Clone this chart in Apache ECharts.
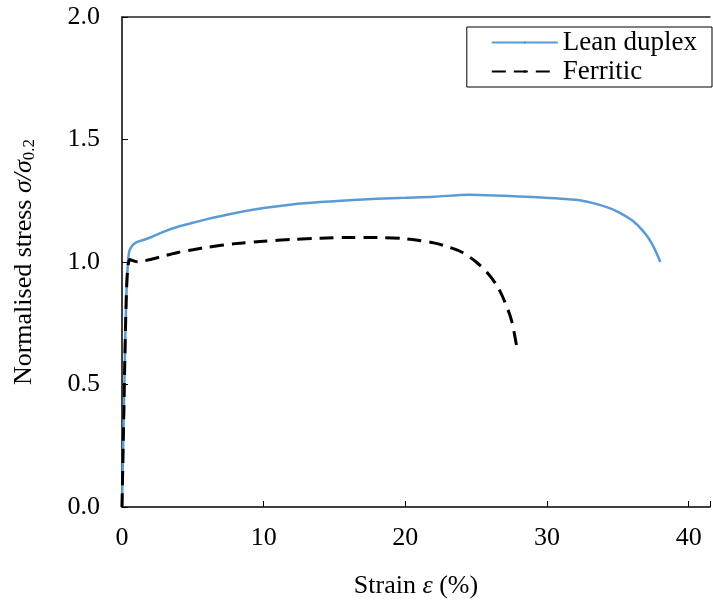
<!DOCTYPE html>
<html>
<head>
<meta charset="utf-8">
<script src="https://cdn.jsdelivr.net/npm/echarts@6/dist/echarts.min.js"></script>
<style>
  html, body { margin: 0; padding: 0; background: #fff; }
  #main { width: 713px; height: 608px; }
</style>
</head>
<body>
<div id="main"></div>
<script>
var leanStrain = [0, 0.1, 0.2, 0.3, 0.4, 0.5, 0.7, 1.0, 1.5, 2, 3, 4, 5, 6, 8, 10, 12, 14, 16, 18, 20, 22, 24.5, 27, 29, 31, 32.5, 34, 35, 36, 36.8, 37.4, 38.0];
var leanStress = [0, 0.3, 0.6, 0.85, 0.98, 1.04, 1.065, 1.08, 1.09, 1.10, 1.125, 1.145, 1.16, 1.175, 1.20, 1.22, 1.235, 1.245, 1.252, 1.258, 1.262, 1.266, 1.275, 1.27, 1.265, 1.258, 1.25, 1.228, 1.205, 1.17, 1.125, 1.075, 1.0];

var ferStrain = [0, 0.1, 0.2, 0.3, 0.4, 0.55, 0.8, 1.2, 1.6, 2, 3, 4, 5, 6, 8, 10, 12, 14, 16, 18, 20, 21, 22, 23, 24, 25, 25.8, 26.5, 27, 27.5, 27.9];
var ferStress = [0, 0.3, 0.6, 0.85, 0.97, 1.01, 1.005, 1.0, 1.005, 1.01, 1.025, 1.04, 1.05, 1.06, 1.075, 1.085, 1.092, 1.097, 1.1, 1.1, 1.095, 1.088, 1.078, 1.062, 1.04, 1.0, 0.955, 0.9, 0.84, 0.76, 0.64];

var seriesNames = ['Lean duplex', 'Ferritic'];

function pairs(xs, ys) {
    return xs.map(function (x, i) { return [x, ys[i]]; });
}

var myChart = echarts.init(document.getElementById('main'));

var font = 'Liberation Serif';
var fs = 26;

option = {
    animation: false,
    textStyle: { fontFamily: font },
    grid: {
        left: 122,
        right: 1,
        top: 17,
        bottom: 101
    },
    legend: {
        right: 1,
        top: 27,
        orient: 'vertical',
        align: 'left',
        backgroundColor: '#fff',
        borderColor: '#000',
        borderWidth: 1,
        padding: [2, 15, 2, 24],
        itemGap: 2,
        itemWidth: 66,
        itemHeight: 3,
        textStyle: { fontFamily: font, fontSize: 27, color: '#000' },
        data: seriesNames
    },
    xAxis: [{
        type: 'value',
        min: 0,
        max: 41.5,
        interval: 10,
        name: 'Strain {i|ε} (%)',
        nameLocation: 'middle',
        nameGap: 66,
        nameTextStyle: {
            fontFamily: font, fontSize: fs, color: '#000',
            rich: { i: { fontFamily: font, fontSize: fs, fontStyle: 'italic', color: '#000' } }
        },
        axisLine: { lineStyle: { color: '#000', width: 1.5 } },
        axisTick: { inside: true, length: 6, lineStyle: { color: '#000' } },
        axisLabel: {
            fontFamily: font, fontSize: fs, color: '#000', margin: 18,
            formatter: function (v) { return v % 10 === 0 ? String(v) : ''; }
        },
        splitLine: { show: false }
    }, {
        type: 'value',
        position: 'top',
        min: 0,
        max: 41.5,
        axisLine: { show: true, onZero: false, lineStyle: { color: '#222', width: 1.5 } },
        axisTick: { show: false },
        axisLabel: { show: false },
        splitLine: { show: false }
    }],
    yAxis: {
        type: 'value',
        min: 0,
        max: 2,
        interval: 0.5,
        name: 'Normalised stress {i|σ/σ}{s|0.2}',
        nameLocation: 'middle',
        nameRotate: 90,
        nameGap: 84,
        nameTextStyle: {
            fontFamily: font, fontSize: fs, color: '#000',
            rich: {
                i: { fontFamily: font, fontSize: fs, fontStyle: 'italic', color: '#000' },
                s: { fontFamily: font, fontSize: 17, color: '#000', verticalAlign: 'bottom', padding: [10, 0, 0, 0] }
            }
        },
        axisLine: { show: true, lineStyle: { color: '#000', width: 1.5 } },
        axisTick: { show: true, inside: true, length: 6, lineStyle: { color: '#000' } },
        axisLabel: {
            fontFamily: font, fontSize: fs, color: '#000', margin: 22,
            formatter: function (v) { return v.toFixed(1); }
        },
        splitLine: { show: false }
    },
    series: [{
        name: seriesNames[0],
        type: 'line',
        showSymbol: false,
        symbol: 'none',
        smooth: 0.3,
        lineStyle: { color: '#5B9BD5', width: 2.5 },
        itemStyle: { color: '#5B9BD5' },
        data: pairs(leanStrain, leanStress)
    }, {
        name: seriesNames[1],
        type: 'line',
        showSymbol: false,
        symbol: 'none',
        smooth: 0.3,
        lineStyle: { color: '#000', width: 3, type: [14, 8] },
        itemStyle: { color: '#000' },
        data: pairs(ferStrain, ferStress)
    }]
};

myChart.setOption(option);
</script>
</body>
</html>
